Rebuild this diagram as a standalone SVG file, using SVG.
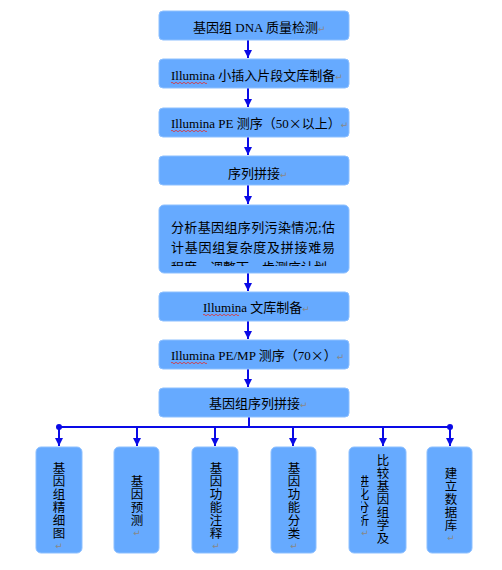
<svg xmlns="http://www.w3.org/2000/svg" width="502" height="570" viewBox="0 0 502 570">
<style>
.box{fill:#66AAFF;stroke:#8DC0FF;stroke-width:1}
.t{font-family:"Liberation Serif","Noto Sans CJK SC",serif;font-size:13px;fill:#000}
.cj{font-family:"Noto Sans CJK SC",sans-serif}
.v{font-family:"Noto Sans CJK SC",sans-serif;font-size:12.5px;fill:#000;text-anchor:middle}
.rm{font-family:"DejaVu Sans",sans-serif;font-size:9px;fill:#888}
.ln{stroke:#0A0AE6;stroke-width:2;fill:none}
.sq{stroke:#E03030;stroke-width:0.8;fill:none}
</style>
<defs>
<marker id="ah" viewBox="0 0 10 10" refX="10" refY="5" markerWidth="4" markerHeight="4" markerUnits="strokeWidth" orient="auto">
<path d="M0,0 L10,5 L0,10 z" fill="#0A0AE6"/>
</marker>
<clipPath id="c5"><rect x="160" y="205" width="190" height="61"/></clipPath>
<clipPath id="cb5"><rect x="361" y="447" width="45" height="106"/></clipPath>
</defs>
<rect width="502" height="570" fill="#fff"/>
<g id="connectors">
<line class="ln" x1="248" y1="40" x2="248" y2="58" marker-end="url(#ah)"/>
<line class="ln" x1="248" y1="88" x2="248" y2="107" marker-end="url(#ah)"/>
<line class="ln" x1="248" y1="137" x2="248" y2="155" marker-end="url(#ah)"/>
<line class="ln" x1="248" y1="185" x2="248" y2="204" marker-end="url(#ah)"/>
<line class="ln" x1="248" y1="273" x2="248" y2="291" marker-end="url(#ah)"/>
<line class="ln" x1="248" y1="321" x2="248" y2="339" marker-end="url(#ah)"/>
<line class="ln" x1="248" y1="369" x2="248" y2="387" marker-end="url(#ah)"/>
<line class="ln" x1="249" y1="417" x2="249" y2="427"/>
<line class="ln" x1="59" y1="427" x2="450" y2="427"/>
<circle cx="59" cy="427" r="3" fill="#0A0AE6"/>
<circle cx="450" cy="427" r="3" fill="#0A0AE6"/>
<line class="ln" x1="59" y1="427" x2="59" y2="446" marker-end="url(#ah)"/>
<line class="ln" x1="137" y1="427" x2="137" y2="446" marker-end="url(#ah)"/>
<line class="ln" x1="215" y1="427" x2="215" y2="446" marker-end="url(#ah)"/>
<line class="ln" x1="293" y1="427" x2="293" y2="446" marker-end="url(#ah)"/>
<line class="ln" x1="383" y1="427" x2="383" y2="446" marker-end="url(#ah)"/>
<line class="ln" x1="450" y1="427" x2="450" y2="446" marker-end="url(#ah)"/>
</g>
<g id="n1">
<rect class="box" x="159" y="11" width="190" height="29" rx="4"/>
<text class="t" x="193" y="32">基因组 DNA 质量检测<tspan class="rm">↵</tspan></text>
</g>
<g id="n2">
<rect class="box" x="159" y="59" width="190" height="29" rx="4"/>
<text class="t" x="171" y="80">Illumina 小插入片段文库制备<tspan class="rm">↵</tspan></text>
<path class="sq" d="M171,83 q1,-1.5 2,0 t2,0 t2,0 t2,0 t2,0 t2,0 t2,0 t2,0 t2,0 t2,0 t2,0 t2,0 t2,0 t2,0 t2,0 t2,0 t2,0 t2,0"/>
</g>
<g id="n3">
<rect class="box" x="159" y="108" width="190" height="29" rx="4"/>
<text class="t" x="171" y="128">Illumina PE 测序（50<tspan class="cj">×</tspan>以上）<tspan class="rm">↵</tspan></text>
<path class="sq" d="M171,131 q1,-1.5 2,0 t2,0 t2,0 t2,0 t2,0 t2,0 t2,0 t2,0 t2,0 t2,0 t2,0 t2,0 t2,0 t2,0 t2,0 t2,0 t2,0 t2,0"/>
</g>
<g id="n4">
<rect class="box" x="159" y="156" width="190" height="29" rx="4"/>
<text class="t" x="228" y="178">序列拼接<tspan class="rm">↵</tspan></text>
</g>
<g id="n5">
<rect class="box" x="159" y="205" width="190" height="68" rx="5"/>
<g clip-path="url(#c5)">
<text class="t" x="171" y="232" textLength="164" lengthAdjust="spacing">分析基因组序列污染情况;估</text>
<text class="t" x="171" y="252" textLength="164" lengthAdjust="spacing">计基因组复杂度及拼接难易</text>
<text class="t" x="171" y="272">程度，调整下一步测序计划。<tspan class="rm">↵</tspan></text>
</g>
</g>
<g id="n6">
<rect class="box" x="159" y="292" width="190" height="29" rx="4"/>
<text class="t" x="203" y="312">Illumina 文库制备<tspan class="rm">↵</tspan></text>
<path class="sq" d="M203,315 q1,-1.5 2,0 t2,0 t2,0 t2,0 t2,0 t2,0 t2,0 t2,0 t2,0 t2,0 t2,0 t2,0 t2,0 t2,0 t2,0 t2,0 t2,0 t2,0"/>
</g>
<g id="n7">
<rect class="box" x="159" y="340" width="190" height="29" rx="4"/>
<text class="t" x="171" y="360">Illumina PE/MP 测序（70<tspan class="cj">×</tspan>）<tspan class="rm">↵</tspan></text>
<path class="sq" d="M171,363 q1,-1.5 2,0 t2,0 t2,0 t2,0 t2,0 t2,0 t2,0 t2,0 t2,0 t2,0 t2,0 t2,0 t2,0 t2,0 t2,0 t2,0 t2,0 t2,0"/>
</g>
<g id="n8">
<rect class="box" x="159" y="388" width="190" height="29" rx="4"/>
<text class="t" x="209" y="408">基因组序列拼接<tspan class="rm">↵</tspan></text>
</g>
<g id="b1">
<rect class="box" x="36" y="447" width="46" height="106" rx="5"/>
<text class="v"><tspan x="59" y="473">基</tspan><tspan x="59" y="486">因</tspan><tspan x="59" y="499">组</tspan><tspan x="59" y="512">精</tspan><tspan x="59" y="525">细</tspan><tspan x="59" y="538">图</tspan><tspan class="rm" x="59" y="549">↵</tspan></text>
</g>
<g id="b2">
<rect class="box" x="114" y="447" width="45" height="106" rx="5"/>
<text class="v"><tspan x="137" y="486">基</tspan><tspan x="137" y="499">因</tspan><tspan x="137" y="512">预</tspan><tspan x="137" y="525">测</tspan><tspan class="rm" x="137" y="536">↵</tspan></text>
</g>
<g id="b3">
<rect class="box" x="192" y="447" width="46" height="106" rx="5"/>
<text class="v"><tspan x="216" y="473">基</tspan><tspan x="216" y="486">因</tspan><tspan x="216" y="499">功</tspan><tspan x="216" y="512">能</tspan><tspan x="216" y="525">注</tspan><tspan x="216" y="538">释</tspan><tspan class="rm" x="216" y="549">↵</tspan></text>
</g>
<g id="b4">
<rect class="box" x="271" y="447" width="45" height="106" rx="5"/>
<text class="v"><tspan x="294" y="473">基</tspan><tspan x="294" y="486">因</tspan><tspan x="294" y="499">功</tspan><tspan x="294" y="512">能</tspan><tspan x="294" y="525">分</tspan><tspan x="294" y="538">类</tspan><tspan class="rm" x="294" y="549">↵</tspan></text>
</g>
<g id="b5">
<rect class="box" x="349" y="447" width="57" height="106" rx="5"/>
<text class="v"><tspan x="383" y="465">比</tspan><tspan x="383" y="478">较</tspan><tspan x="383" y="491">基</tspan><tspan x="383" y="504">因</tspan><tspan x="383" y="517">组</tspan><tspan x="383" y="530">学</tspan><tspan x="383" y="543">及</tspan></text>
<g clip-path="url(#cb5)">
<text class="v"><tspan x="363" y="486">进</tspan><tspan x="363" y="499">化</tspan><tspan x="363" y="512">分</tspan><tspan x="363" y="525">析</tspan><tspan class="rm" x="365" y="536">↵</tspan></text>
</g>
</g>
<g id="b6">
<rect class="box" x="427" y="447" width="45" height="106" rx="5"/>
<text class="v"><tspan x="451" y="478">建</tspan><tspan x="451" y="491">立</tspan><tspan x="451" y="504">数</tspan><tspan x="451" y="517">据</tspan><tspan x="451" y="530">库</tspan><tspan class="rm" x="451" y="541">↵</tspan></text>
</g>
</svg>
